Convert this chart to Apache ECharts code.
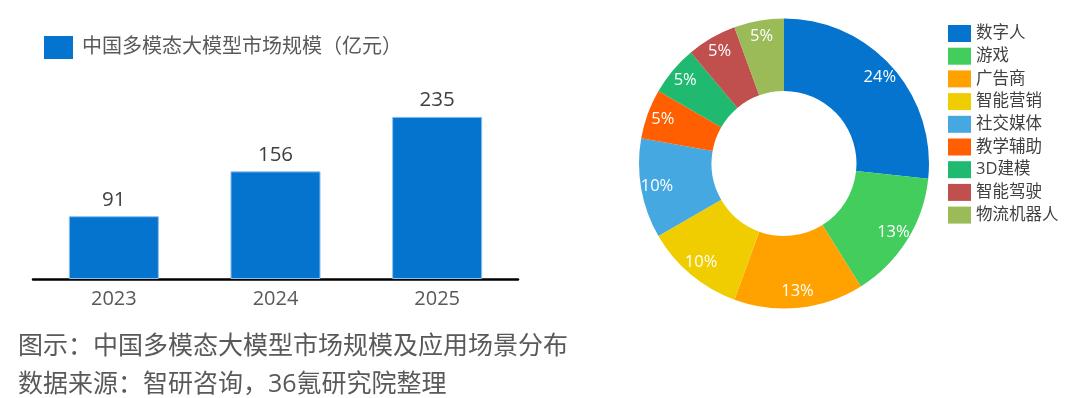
<!DOCTYPE html>
<html>
<head>
<meta charset="utf-8">
<script src="https://cdn.jsdelivr.net/npm/echarts@6/dist/echarts.min.js"></script>
<style>
  html, body { margin: 0; padding: 0; background: #fff; }
  #chart { width: 1080px; height: 398px; }
</style>
</head>
<body>
<div id="chart"></div>
<script>
// bar: market size (亿元)
var years = ['2023', '2024', '2025']
var marketSize = [91, 156, 235]
var barName = '中国多模态大模型市场规模（亿元）'

// donut: application scenarios
var sceneNames = ['数字人', '游戏', '广告商', '智能营销', '社交媒体', '教学辅助', '3D建模', '智能驾驶', '物流机器人']
var sceneShare = [24, 13, 13, 10, 10, 5, 5, 5, 5]
var sceneColors = ['#0474cf', '#43cd5d', '#ffa200', '#f0cd00', '#46a8e0', '#ff5f00', '#1fb970', '#c0504d', '#9bbb59']

var footer1 = '图示：中国多模态大模型市场规模及应用场景分布'
var footer2 = '数据来源：智研咨询，36氪研究院整理'

var font = '"Open Sans", "Noto Sans CJK SC", sans-serif'

var chart = echarts.init(document.getElementById('chart'))

var pieData = sceneNames.map(function(n, i) {
  return { name: n, value: sceneShare[i] }
})

chart.setOption({
  animation: false,
  textStyle: { fontFamily: font },
  legend: [{
    data: [barName],
    left: 44,
    top: 36,
    padding: 0,
    itemWidth: 29,
    itemHeight: 23,
    itemGap: 10,
    icon: 'rect',
    itemStyle: { borderWidth: 0 },
    textStyle: { fontSize: 20, color: '#595959', fontFamily: font, padding: [0, 0, 0, 4] }
  }, {
    data: sceneNames,
    orient: 'vertical',
    left: 948,
    top: 25,
    padding: 0,
    itemWidth: 23,
    itemHeight: 17,
    itemGap: 5.7,
    icon: 'rect',
    textStyle: { fontSize: 16.5, color: '#404040', fontFamily: font }
  }],
  grid: {
    left: 33,
    right: 562,
    top: 72,
    bottom: 119
  },
  xAxis: {
    type: 'category',
    data: years,
    axisTick: { show: false },
    axisLine: { lineStyle: { color: '#000', width: 2.5 } },
    axisLabel: { fontSize: 20, color: '#595959', margin: 10 }
  },
  yAxis: {
    type: 'value',
    min: 0,
    max: 300,
    show: false
  },
  series: [{
    name: barName,
    type: 'bar',
    data: marketSize,
    barWidth: '55.7%',
    itemStyle: { color: '#0474cf', borderColor: '#8cc2ee', borderWidth: 1 },
    label: {
      show: true,
      position: 'top',
      distance: 6,
      fontSize: 20.5,
      color: '#404040'
    }
  }, {
    name: 'scene',
    type: 'pie',
    center: [784, 163.5],
    radius: [72.5, 145],
    startAngle: 90,
    clockwise: true,
    color: sceneColors,
    label: { show: false },
    labelLine: { show: false },
    emphasis: { disabled: true },
    data: pieData
  }, {
    // transparent ring only to place the % labels nearer the outer edge
    name: 'sceneLabel',
    type: 'pie',
    center: [784, 163.5],
    radius: [107, 145],
    startAngle: 90,
    clockwise: true,
    silent: true,
    itemStyle: { color: 'rgba(0,0,0,0)' },
    label: {
      show: true,
      position: 'inside',
      formatter: '{c}%',
      fontSize: 16.5,
      color: '#fff'
    },
    labelLine: { show: false },
    emphasis: { disabled: true },
    data: pieData
  }],
  graphic: [{
    type: 'text',
    x: 18,
    y: 347,
    style: { text: footer1, fontSize: 25, fill: '#595959', fontFamily: font, verticalAlign: 'middle' }
  }, {
    type: 'text',
    x: 18,
    y: 385,
    style: { text: footer2, fontSize: 25, fill: '#595959', fontFamily: font, verticalAlign: 'middle' }
  }]
})
</script>
</body>
</html>
